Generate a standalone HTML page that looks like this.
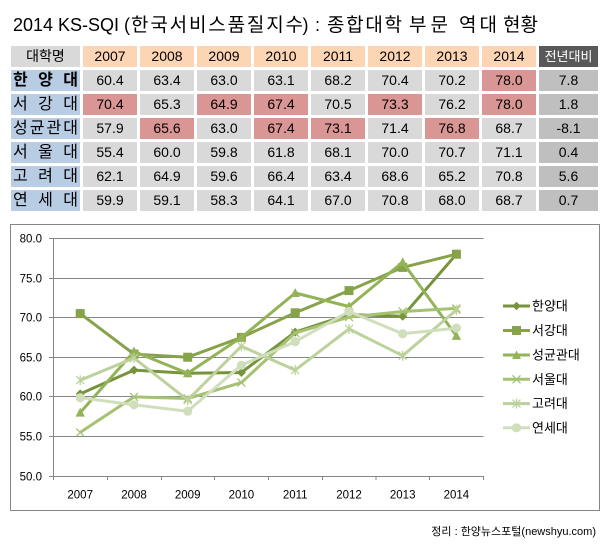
<!DOCTYPE html>
<html>
<head>
<meta charset="utf-8">
<style>
html,body{margin:0;padding:0;background:#fff;}
body{width:609px;height:553px;position:relative;overflow:hidden;font-family:"Liberation Sans","Noto Sans CJK KR",sans-serif;color:#000;}
.c{position:absolute;height:21px;line-height:21px;text-align:center;font-size:14px;background:#D9D9D9;box-sizing:border-box;}
.y{background:#FCD5B4;}
.n{background:#B8CCE4;font-size:16px;display:flex;justify-content:space-between;padding:0 2px;}
.h{background:#DA9694;}
.d{background:#BFBFBF;}
.dh{background:#595959;color:#fff;font-size:13px;}
.foot{position:absolute;right:13px;top:524px;font-size:11px;line-height:16px;white-space:nowrap;}
svg{position:absolute;left:0;top:0;}
</style>
</head>
<body>

<!-- header row -->
<div class="c" style="left:11px;top:46px;width:69px;">대학명</div>
<div class="c y" style="left:83px;top:46px;width:54px;">2007</div>
<div class="c y" style="left:140px;top:46px;width:54px;">2008</div>
<div class="c y" style="left:197px;top:46px;width:54px;">2009</div>
<div class="c y" style="left:254px;top:46px;width:54px;">2010</div>
<div class="c y" style="left:311px;top:46px;width:54px;">2011</div>
<div class="c y" style="left:368px;top:46px;width:54px;">2012</div>
<div class="c y" style="left:425px;top:46px;width:54px;">2013</div>
<div class="c y" style="left:482px;top:46px;width:54px;">2014</div>
<div class="c dh" style="left:539px;top:46px;width:59px;">전년대비</div>

<!-- row 1 -->
<div class="c n" style="left:11px;top:70px;width:69px;font-weight:bold;"><span>한</span><span>양</span><span>대</span></div>
<div class="c" style="left:83px;top:70px;width:54px;">60.4</div>
<div class="c" style="left:140px;top:70px;width:54px;">63.4</div>
<div class="c" style="left:197px;top:70px;width:54px;">63.0</div>
<div class="c" style="left:254px;top:70px;width:54px;">63.1</div>
<div class="c" style="left:311px;top:70px;width:54px;">68.2</div>
<div class="c" style="left:368px;top:70px;width:54px;">70.4</div>
<div class="c" style="left:425px;top:70px;width:54px;">70.2</div>
<div class="c h" style="left:482px;top:70px;width:54px;">78.0</div>
<div class="c d" style="left:539px;top:70px;width:59px;">7.8</div>

<!-- row 2 -->
<div class="c n" style="left:11px;top:94px;width:69px;"><span>서</span><span>강</span><span>대</span></div>
<div class="c h" style="left:83px;top:94px;width:54px;">70.4</div>
<div class="c" style="left:140px;top:94px;width:54px;">65.3</div>
<div class="c h" style="left:197px;top:94px;width:54px;">64.9</div>
<div class="c h" style="left:254px;top:94px;width:54px;">67.4</div>
<div class="c" style="left:311px;top:94px;width:54px;">70.5</div>
<div class="c h" style="left:368px;top:94px;width:54px;">73.3</div>
<div class="c" style="left:425px;top:94px;width:54px;">76.2</div>
<div class="c h" style="left:482px;top:94px;width:54px;">78.0</div>
<div class="c d" style="left:539px;top:94px;width:59px;">1.8</div>

<!-- row 3 -->
<div class="c n" style="left:11px;top:118px;width:69px;"><span>성</span><span>균</span><span>관</span><span>대</span></div>
<div class="c" style="left:83px;top:118px;width:54px;">57.9</div>
<div class="c h" style="left:140px;top:118px;width:54px;">65.6</div>
<div class="c" style="left:197px;top:118px;width:54px;">63.0</div>
<div class="c h" style="left:254px;top:118px;width:54px;">67.4</div>
<div class="c h" style="left:311px;top:118px;width:54px;">73.1</div>
<div class="c" style="left:368px;top:118px;width:54px;">71.4</div>
<div class="c h" style="left:425px;top:118px;width:54px;">76.8</div>
<div class="c" style="left:482px;top:118px;width:54px;">68.7</div>
<div class="c d" style="left:539px;top:118px;width:59px;">-8.1</div>

<!-- row 4 -->
<div class="c n" style="left:11px;top:142px;width:69px;"><span>서</span><span>울</span><span>대</span></div>
<div class="c" style="left:83px;top:142px;width:54px;">55.4</div>
<div class="c" style="left:140px;top:142px;width:54px;">60.0</div>
<div class="c" style="left:197px;top:142px;width:54px;">59.8</div>
<div class="c" style="left:254px;top:142px;width:54px;">61.8</div>
<div class="c" style="left:311px;top:142px;width:54px;">68.1</div>
<div class="c" style="left:368px;top:142px;width:54px;">70.0</div>
<div class="c" style="left:425px;top:142px;width:54px;">70.7</div>
<div class="c" style="left:482px;top:142px;width:54px;">71.1</div>
<div class="c d" style="left:539px;top:142px;width:59px;">0.4</div>

<!-- row 5 -->
<div class="c n" style="left:11px;top:166px;width:69px;"><span>고</span><span>려</span><span>대</span></div>
<div class="c" style="left:83px;top:166px;width:54px;">62.1</div>
<div class="c" style="left:140px;top:166px;width:54px;">64.9</div>
<div class="c" style="left:197px;top:166px;width:54px;">59.6</div>
<div class="c" style="left:254px;top:166px;width:54px;">66.4</div>
<div class="c" style="left:311px;top:166px;width:54px;">63.4</div>
<div class="c" style="left:368px;top:166px;width:54px;">68.6</div>
<div class="c" style="left:425px;top:166px;width:54px;">65.2</div>
<div class="c" style="left:482px;top:166px;width:54px;">70.8</div>
<div class="c d" style="left:539px;top:166px;width:59px;">5.6</div>

<!-- row 6 -->
<div class="c n" style="left:11px;top:190px;width:69px;"><span>연</span><span>세</span><span>대</span></div>
<div class="c" style="left:83px;top:190px;width:54px;">59.9</div>
<div class="c" style="left:140px;top:190px;width:54px;">59.1</div>
<div class="c" style="left:197px;top:190px;width:54px;">58.3</div>
<div class="c" style="left:254px;top:190px;width:54px;">64.1</div>
<div class="c" style="left:311px;top:190px;width:54px;">67.0</div>
<div class="c" style="left:368px;top:190px;width:54px;">70.8</div>
<div class="c" style="left:425px;top:190px;width:54px;">68.0</div>
<div class="c" style="left:482px;top:190px;width:54px;">68.7</div>
<div class="c d" style="left:539px;top:190px;width:59px;">0.7</div>

<svg width="609" height="553" viewBox="0 0 609 553" xmlns="http://www.w3.org/2000/svg">
  <!-- title -->
  <g font-family="Liberation Sans, Noto Sans CJK KR, sans-serif" font-size="18" fill="#000">
    <text x="13" y="31">2014 KS-SQI (</text>
    <text x="131" y="31" font-size="19" textLength="172" lengthAdjust="spacing">한국서비스품질지수</text>
    <text x="302.5" y="31">)</text>
    <text x="315" y="31">:</text>
    <text x="327" y="31" font-size="19" textLength="75" lengthAdjust="spacing">종합대학</text>
    <text x="409" y="31" font-size="19" textLength="39" lengthAdjust="spacing">부문</text>
    <text x="459" y="31" font-size="19" textLength="38" lengthAdjust="spacing">역대</text>
    <text x="503" y="31" font-size="19" textLength="35" lengthAdjust="spacing">현황</text>
  </g>

  <!-- chart border -->
  <rect x="10.5" y="224.5" width="589" height="286" fill="none" stroke="#868686" stroke-width="1"/>
  <!-- gridlines -->
  <g stroke="#868686" stroke-width="1">
    <line x1="53" y1="238.5" x2="483.5" y2="238.5"/>
    <line x1="53" y1="278.5" x2="483.5" y2="278.5"/>
    <line x1="53" y1="317.5" x2="483.5" y2="317.5"/>
    <line x1="53" y1="357.5" x2="483.5" y2="357.5"/>
    <line x1="53" y1="396.5" x2="483.5" y2="396.5"/>
    <line x1="53" y1="436.5" x2="483.5" y2="436.5"/>
    <line x1="49" y1="476.5" x2="483.5" y2="476.5"/>
    <line x1="53.5" y1="238" x2="53.5" y2="480"/>
    <line x1="49" y1="238.5" x2="53" y2="238.5"/>
    <line x1="49" y1="278.5" x2="53" y2="278.5"/>
    <line x1="49" y1="317.5" x2="53" y2="317.5"/>
    <line x1="49" y1="357.5" x2="53" y2="357.5"/>
    <line x1="49" y1="396.5" x2="53" y2="396.5"/>
    <line x1="49" y1="436.5" x2="53" y2="436.5"/>
    <line x1="107.5" y1="476" x2="107.5" y2="480"/>
    <line x1="161.5" y1="476" x2="161.5" y2="480"/>
    <line x1="214.5" y1="476" x2="214.5" y2="480"/>
    <line x1="268.5" y1="476" x2="268.5" y2="480"/>
    <line x1="322.5" y1="476" x2="322.5" y2="480"/>
    <line x1="376" y1="476" x2="376" y2="480"/>
    <line x1="429.5" y1="476" x2="429.5" y2="480"/>
    <line x1="483.5" y1="476" x2="483.5" y2="480"/>
  </g>
  <!-- y labels -->
  <g font-family="Liberation Sans, sans-serif" font-size="11.5" fill="#000" text-anchor="end">
    <text x="42" y="242.5">80.0</text>
    <text x="42" y="282.5">75.0</text>
    <text x="42" y="321.5">70.0</text>
    <text x="42" y="361.5">65.0</text>
    <text x="42" y="400.5">60.0</text>
    <text x="42" y="440.5">55.0</text>
    <text x="42" y="480.5">50.0</text>
  </g>
  <!-- x labels -->
  <g font-family="Liberation Sans, sans-serif" font-size="11.5" fill="#000" text-anchor="middle">
    <text x="80.2" y="498.5">2007</text>
    <text x="134" y="498.5">2008</text>
    <text x="187.7" y="498.5">2009</text>
    <text x="241.4" y="498.5">2010</text>
    <text x="295.2" y="498.5">2011</text>
    <text x="349" y="498.5">2012</text>
    <text x="402.7" y="498.5">2013</text>
    <text x="456.4" y="498.5">2014</text>
  </g>

  <!-- 한양대 -->
  <polyline fill="none" stroke="#77933C" stroke-width="3" stroke-linejoin="round"
    points="80.2,393.9 134,370.1 187.7,373.3 241.4,372.5 295.2,332.1 349,314.6 402.7,316.2 456.4,254.2"/>
  <g fill="#77933C">
    <polygon points="80.2,389.4 84.7,393.9 80.2,398.4 75.7,393.9"/>
    <polygon points="134,365.6 138.5,370.1 134,374.6 129.5,370.1"/>
    <polygon points="187.7,368.8 192.2,373.3 187.7,377.8 183.2,373.3"/>
    <polygon points="241.4,368 245.9,372.5 241.4,377 236.9,372.5"/>
    <polygon points="295.2,327.6 299.7,332.1 295.2,336.6 290.7,332.1"/>
    <polygon points="349,310.1 353.5,314.6 349,319.1 344.5,314.6"/>
    <polygon points="402.7,311.7 407.2,316.2 402.7,320.7 398.2,316.2"/>
    <polygon points="456.4,249.7 460.9,254.2 456.4,258.7 451.9,254.2"/>
  </g>
  <!-- 서강대 -->
  <polyline fill="none" stroke="#86A34A" stroke-width="3" stroke-linejoin="round"
    points="80.2,313.6 134,354.1 187.7,357.2 241.4,337.4 295.2,312.8 349,290.6 402.7,267.4 456.4,254.2"/>
  <g fill="#86A34A">
    <rect x="75.7" y="309.1" width="9" height="9"/>
    <rect x="129.5" y="349.6" width="9" height="9"/>
    <rect x="183.2" y="352.7" width="9" height="9"/>
    <rect x="236.9" y="332.9" width="9" height="9"/>
    <rect x="290.7" y="308.3" width="9" height="9"/>
    <rect x="344.5" y="286.1" width="9" height="9"/>
    <rect x="398.2" y="262.9" width="9" height="9"/>
    <rect x="451.9" y="249.7" width="9" height="9"/>
  </g>
  <!-- 성균관대 -->
  <polyline fill="none" stroke="#93B357" stroke-width="3" stroke-linejoin="round"
    points="80.2,412.6 134,351.5 187.7,373.3 241.4,337.4 295.2,293 349,306.5 402.7,262.2 456.4,335.9"/>
  <g fill="#93B357">
    <polygon points="80.2,407.6 84.9,416.6 75.5,416.6"/>
    <polygon points="134,346.5 138.7,355.5 129.3,355.5"/>
    <polygon points="187.7,368.3 192.4,377.3 183,377.3"/>
    <polygon points="241.4,332.4 246.1,341.4 236.7,341.4"/>
    <polygon points="295.2,288 299.9,297 290.5,297"/>
    <polygon points="349,301.5 353.7,310.5 344.3,310.5"/>
    <polygon points="402.7,257.2 407.4,266.2 398,266.2"/>
    <polygon points="456.4,330.9 461.1,339.9 451.7,339.9"/>
  </g>
  <!-- 서울대 -->
  <polyline fill="none" stroke="#A5C273" stroke-width="3" stroke-linejoin="round"
    points="80.2,432.4 134,396.9 187.7,398.5 241.4,382.6 295.2,332.9 349,317.1 402.7,311.5 456.4,308.4"/>
  <g stroke="#A5C273" stroke-width="1.3" fill="none">
    <path d="M76.2,428.4 l8,8 M84.2,428.4 l-8,8"/>
    <path d="M130,392.9 l8,8 M138,392.9 l-8,8"/>
    <path d="M183.7,394.5 l8,8 M191.7,394.5 l-8,8"/>
    <path d="M237.4,378.6 l8,8 M245.4,378.6 l-8,8"/>
    <path d="M291.2,328.9 l8,8 M299.2,328.9 l-8,8"/>
    <path d="M345,313.1 l8,8 M353,313.1 l-8,8"/>
    <path d="M398.7,307.5 l8,8 M406.7,307.5 l-8,8"/>
    <path d="M452.4,304.4 l8,8 M460.4,304.4 l-8,8"/>
  </g>
  <!-- 고려대 -->
  <polyline fill="none" stroke="#BDD19C" stroke-width="3" stroke-linejoin="round"
    points="80.2,380.2 134,358 187.7,400.1 241.4,346.2 295.2,370.1 349,328.9 402.7,355.7 456.4,310"/>
  <g stroke="#BDD19C" stroke-width="1.3" fill="none">
    <path d="M76.2,376.2 l8,8 M84.2,376.2 l-8,8 M80.2,375.2 v10"/>
    <path d="M130,354 l8,8 M138,354 l-8,8 M134,353 v10"/>
    <path d="M183.7,396.1 l8,8 M191.7,396.1 l-8,8 M187.7,395.1 v10"/>
    <path d="M237.4,342.2 l8,8 M245.4,342.2 l-8,8 M241.4,341.2 v10"/>
    <path d="M291.2,366.1 l8,8 M299.2,366.1 l-8,8 M295.2,365.1 v10"/>
    <path d="M345,324.9 l8,8 M353,324.9 l-8,8 M349,323.9 v10"/>
    <path d="M398.7,351.7 l8,8 M406.7,351.7 l-8,8 M402.7,350.7 v10"/>
    <path d="M452.4,306 l8,8 M460.4,306 l-8,8 M456.4,305 v10"/>
  </g>
  <!-- 연세대 -->
  <polyline fill="none" stroke="#D0DEBC" stroke-width="3" stroke-linejoin="round"
    points="80.2,397.7 134,404.8 187.7,411.2 241.4,365.2 295.2,341.6 349,311.5 402.7,333.7 456.4,328.1"/>
  <g fill="#D0DEBC">
    <circle cx="80.2" cy="397.7" r="4.6"/>
    <circle cx="134" cy="404.8" r="4.6"/>
    <circle cx="187.7" cy="411.2" r="4.6"/>
    <circle cx="241.4" cy="365.2" r="4.6"/>
    <circle cx="295.2" cy="341.6" r="4.6"/>
    <circle cx="349" cy="311.5" r="4.6"/>
    <circle cx="402.7" cy="333.7" r="4.6"/>
    <circle cx="456.4" cy="328.1" r="4.6"/>
  </g>

  <!-- legend -->
  <g stroke-width="3">
    <line x1="503" y1="306" x2="530" y2="306" stroke="#77933C"/>
    <line x1="503" y1="330.5" x2="530" y2="330.5" stroke="#86A34A"/>
    <line x1="503" y1="355" x2="530" y2="355" stroke="#93B357"/>
    <line x1="503" y1="379.3" x2="530" y2="379.3" stroke="#A5C273"/>
    <line x1="503" y1="403.6" x2="530" y2="403.6" stroke="#BDD19C"/>
    <line x1="503" y1="427.8" x2="530" y2="427.8" stroke="#D0DEBC"/>
  </g>
  <polygon points="516.5,301.8 520.7,306 516.5,310.2 512.3,306" fill="#77933C"/>
  <rect x="512" y="326" width="9" height="9" fill="#86A34A"/>
  <polygon points="516.5,350.5 521,359 512,359" fill="#93B357"/>
  <path d="M512.5,375.3 l8,8 M520.5,375.3 l-8,8" stroke="#A5C273" stroke-width="1.3"/>
  <path d="M512.5,399.6 l8,8 M520.5,399.6 l-8,8 M516.5,398.6 v10" stroke="#BDD19C" stroke-width="1.3"/>
  <circle cx="516.5" cy="427.8" r="4.6" fill="#D0DEBC"/>
  <g font-family="Liberation Sans, Noto Sans CJK KR, sans-serif" font-size="13" fill="#000">
    <text x="532" y="310.5">한양대</text>
    <text x="532" y="335">서강대</text>
    <text x="532" y="359.5">성균관대</text>
    <text x="532" y="383.8">서울대</text>
    <text x="532" y="408.1">고려대</text>
    <text x="532" y="432.3">연세대</text>
  </g>
</svg>

<div class="foot">정리 : 한양뉴스포털(newshyu.com)</div>
</body>
</html>
